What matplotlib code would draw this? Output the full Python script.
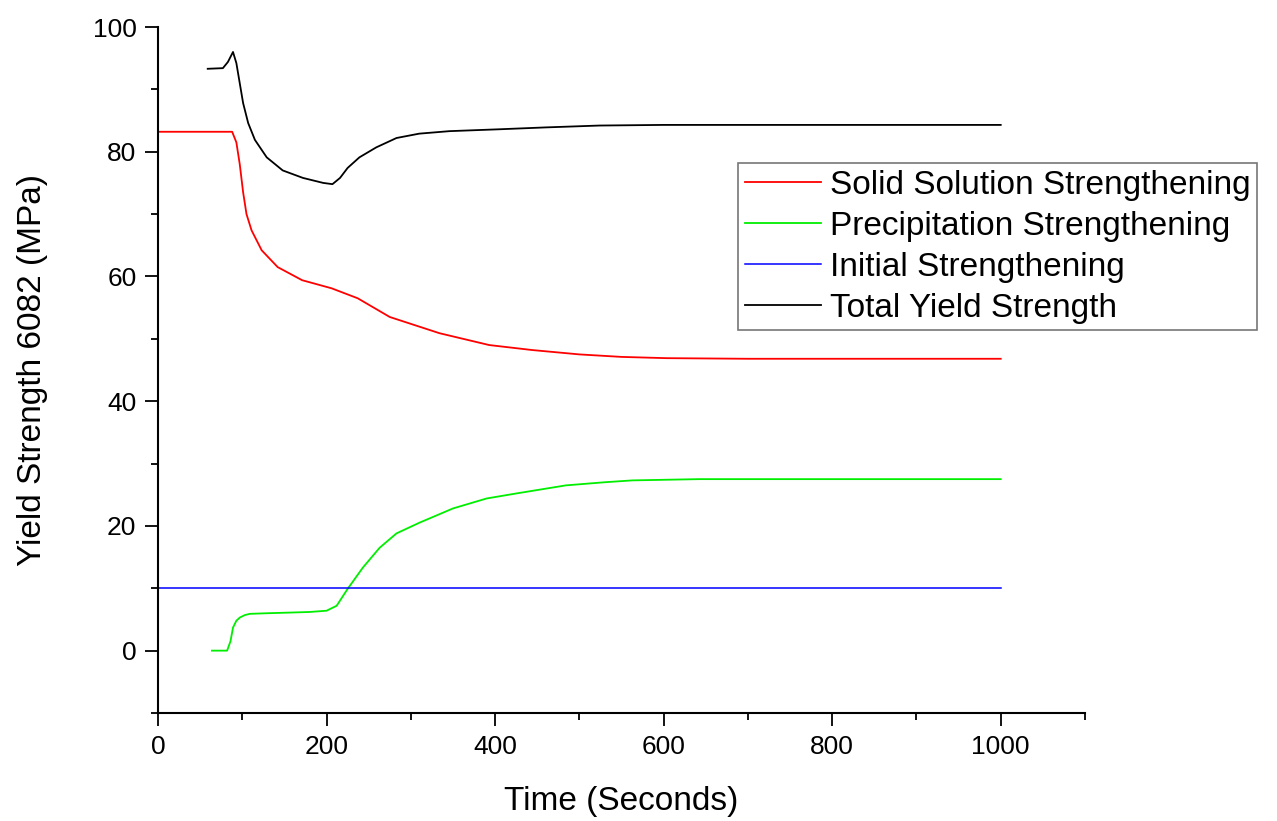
import matplotlib
matplotlib.use("Agg")
import matplotlib.pyplot as plt
from matplotlib.ticker import MultipleLocator

plt.rcParams['font.family'] = ['Liberation Sans', 'DejaVu Sans']

# Solid solution strengthening (red)
ss_t = [0, 88, 93, 97, 101, 105, 111, 123, 142, 171, 206, 237, 275, 334, 393, 444, 500, 550, 603, 700, 1000]
ss_v = [83.2, 83.2, 81.5, 78.0, 73.5, 70.0, 67.4, 64.2, 61.5, 59.4, 58.1, 56.5, 53.5, 50.9, 49.0, 48.2, 47.5, 47.1, 46.9, 46.8, 46.8]

# Precipitation strengthening (green)
pr_t = [64, 82, 86, 89, 93, 97, 103, 109, 130, 156, 180, 200, 212, 225, 243, 263, 283, 310, 350, 390, 425, 484, 530, 563, 642, 1000]
pr_v = [0.0, 0.0, 1.5, 3.7, 4.8, 5.3, 5.7, 5.9, 6.0, 6.1, 6.2, 6.4, 7.2, 9.9, 13.3, 16.5, 18.8, 20.5, 22.8, 24.4, 25.2, 26.5, 27.0, 27.3, 27.5, 27.5]

# Initial strengthening (blue)
in_t = [0, 1000]
in_v = [10.0, 10.0]

# Total yield strength (black)
ty_t = [59, 77, 83, 89, 93, 97, 101, 107, 115, 129, 148, 172, 196, 207, 216, 225, 239, 259, 283, 310, 346, 405, 460, 524, 600, 700, 1000]
ty_v = [93.3, 93.4, 94.4, 96.0, 94.2, 91.0, 87.8, 84.6, 81.9, 79.1, 77.0, 75.8, 75.0, 74.8, 75.8, 77.4, 79.1, 80.7, 82.2, 82.9, 83.3, 83.6, 83.9, 84.2, 84.3, 84.3, 84.3]

labels = ["Solid Solution Strengthening", "Precipitation Strengthening",
          "Initial Strengthening", "Total Yield Strength"]

fig = plt.figure(figsize=(12.77, 8.21), dpi=100)
ax = fig.add_axes([158/1277, 1-713/821, (1085-158)/1277, (713-27)/821])

ax.plot(ss_t, ss_v, color='#ff0000', lw=1.3, label=labels[0])
ax.plot(pr_t, pr_v, color='#00ee00', lw=1.3, label=labels[1])
ax.plot(in_t, in_v, color='#0000ff', lw=1.1, label=labels[2])
ax.plot(ty_t, ty_v, color='black', lw=1.3, label=labels[3])

ax.set_xlim(0, 1100)
ax.set_ylim(-10, 100)
ax.xaxis.set_major_locator(MultipleLocator(200))
ax.xaxis.set_minor_locator(MultipleLocator(100))
ax.yaxis.set_major_locator(MultipleLocator(20))
ax.yaxis.set_minor_locator(MultipleLocator(10))

for s in ['top', 'right']:
    ax.spines[s].set_visible(False)
for s in ['left', 'bottom']:
    ax.spines[s].set_linewidth(1.5)

ax.tick_params(which='major', direction='out', length=9.5, width=1.3, labelsize=19, pad=6)
ax.tick_params(which='minor', direction='out', length=5, width=1.3)

ax.set_xlabel("Time (Seconds)", fontsize=24, labelpad=20)
ax.set_ylabel("Yield Strength 6082 (MPa)", fontsize=24, labelpad=32)

leg = fig.legend(loc='upper left', bbox_to_anchor=(738/1277, 1-163/821),
                 bbox_transform=fig.transFigure, fontsize=24, frameon=True,
                 fancybox=False, edgecolor='#777777', framealpha=1,
                 handlelength=2.3, handletextpad=0.25, labelspacing=0.3,
                 borderpad=0.2, borderaxespad=0)
leg.get_frame().set_linewidth(1.2)

fig.savefig("out.png", dpi=100)
